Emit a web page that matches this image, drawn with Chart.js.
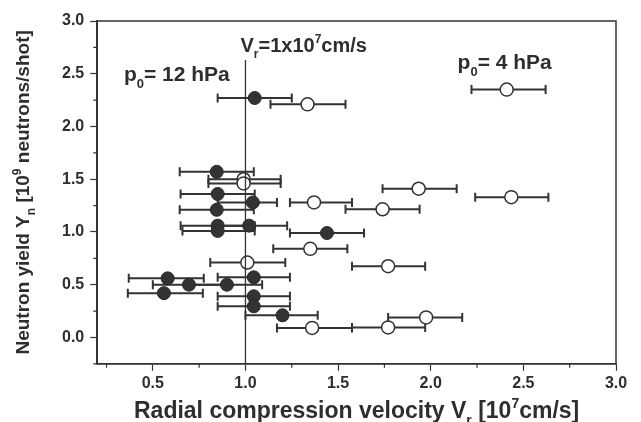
<!DOCTYPE html>
<html>
<head>
<meta charset="utf-8">
<script src="https://cdn.jsdelivr.net/npm/chart.js@4.4.1/dist/chart.umd.min.js"></script>
<style>
  html, body { margin: 0; padding: 0; background: #fff; }
  #wrap { width: 641px; height: 422px; position: relative; }
</style>
</head>
<body>
<div id="wrap"><canvas id="chart"></canvas></div>
<script>
// --- axis ranges / ticks ---
const xMin = 0.2, xMax = 3.0, xStep = 0.25;
const yMin = -0.25, yMax = 3.0, yStep = 0.25;

// --- p0 = 12 hPa (filled circles): velocity, yield, error bar ends ---
const filledX  = [1.05, 0.845, 0.85, 1.04, 0.845, 0.85, 0.85, 1.02, 1.44, 0.58, 1.045, 0.695, 0.90, 0.56, 1.045, 1.045, 1.20];
const filledY  = [2.27, 1.57, 1.36, 1.28, 1.21, 1.06, 1.01, 1.06, 0.99, 0.56, 0.57, 0.50, 0.50, 0.42, 0.39, 0.295, 0.21];
const filledLo = [0.85, 0.645, 0.65, 0.85, 0.645, 0.65, 0.66, 0.83, 1.24, 0.37, 0.85, 0.50, 0.71, 0.365, 0.85, 0.85, 1.00];
const filledHi = [1.25, 1.045, 1.05, 1.17, 1.045, 1.05, 1.05, 1.225, 1.64, 0.775, 1.24, 0.89, 1.09, 0.77, 1.24, 1.24, 1.39];

// --- p0 = 4 hPa (open circles) ---
const openX  = [1.335, 2.41, 0.99, 0.99, 1.935, 2.435, 1.37, 1.74, 1.35, 1.01, 1.77, 1.975, 1.36, 1.77];
const openY  = [2.21, 2.35, 1.50, 1.46, 1.41, 1.33, 1.28, 1.215, 0.84, 0.71, 0.675, 0.19, 0.09, 0.095];
const openLo = [1.135, 2.22, 0.80, 0.80, 1.74, 2.24, 1.24, 1.54, 1.15, 0.81, 1.575, 1.77, 1.17, 1.575];
const openHi = [1.54, 2.62, 1.19, 1.19, 2.14, 2.635, 1.575, 1.94, 1.55, 1.215, 1.97, 2.17, 1.575, 1.97];

// --- vertical reference line V_r = 1 ---
const refLineX = [1.0, 1.0];
const refLineY = [yMin, 2.63];

const INK = '#333';
const FONT = '"Liberation Sans", Arial, sans-serif';

const toPoints = (xs, ys) => xs.map((x, i) => ({ x, y: ys[i] }));
const isMajor = v => Math.abs(v * 2 - Math.round(v * 2)) < 1e-6;

// texte me indekse: [tekst, 0 normal | 1 sub | 2 sup]
function richWidth(ctx, parts, size) {
  let w = 0;
  parts.forEach(([t, m]) => {
    ctx.font = `bold ${m ? Math.round(size * 0.62) : size}px ${FONT}`;
    w += ctx.measureText(t).width;
  });
  return w;
}
function drawRich(ctx, parts, x, y, size) {
  let cx = x;
  parts.forEach(([t, m]) => {
    const s = m ? Math.round(size * 0.62) : size;
    ctx.font = `bold ${s}px ${FONT}`;
    const dy = m === 1 ? size * 0.32 : m === 2 ? -size * 0.42 : 0;
    ctx.fillText(t, cx, y + dy);
    cx += ctx.measureText(t).width;
  });
}

// error bars horizontal
const errorBars = {
  id: 'errorBars',
  beforeDatasetsDraw(chart) {
    const { ctx, scales: { x, y } } = chart;
    ctx.save();
    ctx.strokeStyle = INK;
    ctx.lineWidth = 2;
    chart.data.datasets.forEach(ds => {
      if (!ds.xLow) return;
      ds.data.forEach((p, i) => {
        const py = y.getPixelForValue(p.y);
        const x0 = x.getPixelForValue(ds.xLow[i]);
        const x1 = x.getPixelForValue(ds.xHigh[i]);
        ctx.beginPath();
        ctx.moveTo(x0, py); ctx.lineTo(x1, py);
        ctx.moveTo(x0, py - 4.5); ctx.lineTo(x0, py + 4.5);
        ctx.moveTo(x1, py - 4.5); ctx.lineTo(x1, py + 4.5);
        ctx.stroke();
      });
    });
    ctx.restore();
  }
};

// korniza, vizat e vogla, titujt e boshteve, shënimet
const decorations = {
  id: 'decorations',
  afterDraw(chart) {
    const { ctx, chartArea: a, scales: { x, y } } = chart;
    ctx.save();
    ctx.strokeStyle = INK;
    ctx.lineWidth = 1.5;
    ctx.strokeRect(a.left, a.top, a.right - a.left, a.bottom - a.top);

    // minor ticks
    ctx.lineWidth = 1.2;
    ctx.beginPath();
    x.ticks.forEach(t => {
      if (isMajor(t.value)) return;
      const px = x.getPixelForValue(t.value);
      ctx.moveTo(px, a.bottom); ctx.lineTo(px, a.bottom + 4);
    });
    y.ticks.forEach(t => {
      if (isMajor(t.value)) return;
      const py = y.getPixelForValue(t.value);
      ctx.moveTo(a.left, py); ctx.lineTo(a.left - 4, py);
    });
    ctx.stroke();

    ctx.fillStyle = '#2e2e2e';
    ctx.textBaseline = 'alphabetic';

    // x title
    const xt = [['Radial compression velocity V', 0], ['r', 1], [' [10', 0], ['7', 2], ['cm/s]', 0]];
    const xw = richWidth(ctx, xt, 23);
    drawRich(ctx, xt, (a.left + a.right) / 2 - xw / 2, 418, 23);

    // y title
    const yt = [['Neutron yield Y', 0], ['n', 1], [' [10', 0], ['9', 2], [' neutrons/shot]', 0]];
    const yw = richWidth(ctx, yt, 19);
    ctx.save();
    ctx.translate(29, (a.top + a.bottom) / 2);
    ctx.rotate(-Math.PI / 2);
    drawRich(ctx, yt, -yw / 2, 0, 19);
    ctx.restore();

    // annotations
    drawRich(ctx, [['V', 0], ['r', 1], ['=1x10', 0], ['7', 2], ['cm/s', 0]],
      x.getPixelForValue(0.973), y.getPixelForValue(2.71), 20);
    drawRich(ctx, [['p', 0], ['0', 1], ['= 12 hPa', 0]],
      x.getPixelForValue(0.344), y.getPixelForValue(2.43), 21);
    drawRich(ctx, [['p', 0], ['0', 1], ['= 4 hPa', 0]],
      x.getPixelForValue(2.145), y.getPixelForValue(2.545), 21);
    ctx.restore();
  }
};

const tickFont = { family: FONT, size: 16, weight: 'bold' };

new Chart(document.getElementById('chart'), {
  type: 'scatter',
  data: {
    datasets: [
      {
        type: 'line',
        data: toPoints(refLineX, refLineY),
        borderColor: INK,
        borderWidth: 1.3,
        pointRadius: 0
      },
      {
        label: 'p0 = 12 hPa',
        data: toPoints(filledX, filledY),
        xLow: filledLo, xHigh: filledHi,
        pointRadius: 6.5,
        backgroundColor: '#333',
        borderColor: '#2a2a2a',
        borderWidth: 1
      },
      {
        label: 'p0 = 4 hPa',
        data: toPoints(openX, openY),
        xLow: openLo, xHigh: openHi,
        pointRadius: 6.5,
        backgroundColor: '#fff',
        borderColor: '#333',
        borderWidth: 1.5
      }
    ]
  },
  options: {
    responsive: true,
    maintainAspectRatio: false,
    animation: false,
    layout: { padding: { left: 56, right: 25, top: 21, bottom: 26 } },
    plugins: { legend: { display: false }, tooltip: { enabled: false } },
    scales: {
      x: {
        type: 'linear',
        min: xMin, max: xMax,
        border: { color: INK, width: 1.5 },
        grid: {
          drawOnChartArea: false,
          tickLength: 7,
          tickWidth: 1.2,
          tickColor: c => isMajor(c.tick.value) ? INK : 'rgba(0,0,0,0)'
        },
        ticks: {
          stepSize: xStep,
          includeBounds: false,
          autoSkip: false,
          maxRotation: 0,
          color: '#2e2e2e',
          font: tickFont,
          padding: 3,
          callback: v => isMajor(v) ? v.toFixed(1) : ''
        }
      },
      y: {
        min: yMin, max: yMax,
        border: { color: INK, width: 1.5 },
        grid: {
          drawOnChartArea: false,
          tickLength: 7,
          tickWidth: 1.2,
          tickColor: c => isMajor(c.tick.value) ? INK : 'rgba(0,0,0,0)'
        },
        ticks: {
          stepSize: yStep,
          autoSkip: false,
          color: '#2e2e2e',
          font: tickFont,
          padding: 6,
          callback: v => isMajor(v) ? v.toFixed(1) : ''
        }
      }
    }
  },
  plugins: [errorBars, decorations]
});
</script>
</body>
</html>
